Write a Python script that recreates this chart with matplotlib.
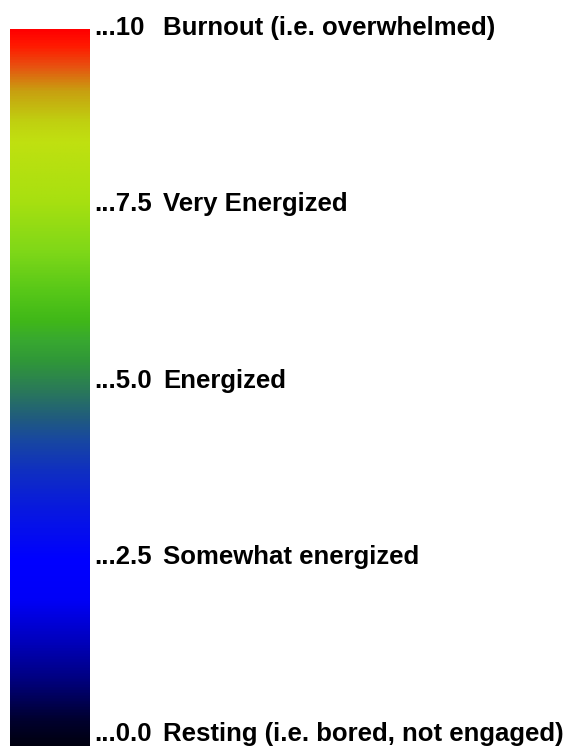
import matplotlib
matplotlib.use("Agg")
import matplotlib.pyplot as plt
from matplotlib.colors import LinearSegmentedColormap
import numpy as np

# Échelle d'énergie (valeur, libellé)
levels = [10, 7.5, 5.0, 2.5, 0.0]
level_text = ["...10", "...7.5", "...5.0", "...2.5", "...0.0"]
level_labels = [
    "Burnout (i.e. overwhelmed)",
    "Very Energized",
    "Energized",
    "Somewhat energized",
    "Resting (i.e. bored, not engaged)",
]

stop_values = [0.0, 0.36, 0.92, 1.48, 2.04, 2.59, 3.29, 3.85, 4.27, 4.55, 4.97,
               5.38, 5.66, 5.94, 6.36, 6.92, 7.62, 8.45, 8.73, 9.15, 9.5, 9.78, 10.0]
stop_colors = ["#000010", "#000030", "#000080", "#0000c0", "#0000f8", "#0000ff",
               "#0818e0", "#1030c0", "#1848a0", "#205a80", "#2a7a58", "#309838",
               "#38a830", "#40b818", "#58c818", "#80d818", "#a8e010", "#c0e010",
               "#c0d010", "#c8a010", "#e85010", "#ff1a00", "#ff0000"]

cmap = LinearSegmentedColormap.from_list(
    "energy", list(zip(np.array(stop_values) / 10.0, stop_colors)))

fig = plt.figure(figsize=(5.67, 7.48), dpi=100)
ax = fig.add_axes([0, 0, 1, 1])
ax.set_xlim(0, 567)
# v=0 au pixel 746, v=10 au pixel 29
per_unit = (746 - 29) / 10.0
ax.set_ylim(-2 / per_unit, 10 + 29 / per_unit)
ax.axis("off")

grad = np.linspace(0, 10, 512).reshape(-1, 1)
ax.imshow(grad, cmap=cmap, origin="lower", aspect="auto",
          extent=(10, 90, 0, 10), interpolation="bilinear")

font = dict(family=["Liberation Sans", "DejaVu Sans"], fontweight="bold",
            fontsize=18.5, color="black")
for v, num, lab in zip(levels, level_text, level_labels):
    # ligne de base du texte légèrement décalée par rapport à la barre
    yb = 0.07 + v * 0.985
    ax.text(94, yb, num, ha="left", va="baseline", **font)
    ax.text(163, yb, lab, ha="left", va="baseline", **font)

plt.savefig("out.png", dpi=100, facecolor="white")
